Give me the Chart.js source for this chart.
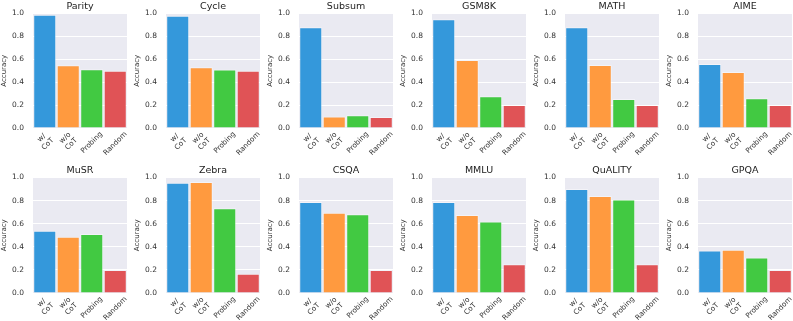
<!DOCTYPE html>
<html>
<head>
<meta charset="utf-8">
<script src="https://cdn.jsdelivr.net/npm/chart.js@4.4.1/dist/chart.umd.min.js"></script>
<style>
  html, body { margin: 0; padding: 0; background: #fff; overflow: hidden; width: 793px; height: 321px; }
  canvas { position: absolute; }
</style>
</head>
<body>
<script>
// tasks (one small chart each) and the four methods on the x axis
var tasks = ['Parity', 'Cycle', 'Subsum', 'GSM8K', 'MATH', 'AIME', 'MuSR', 'Zebra', 'CSQA', 'MMLU', 'QuALITY', 'GPQA'];
var methods = [['w/', 'CoT'], ['w/o', 'CoT'], 'Probing', 'Random'];

// accuracy per task, one array per method
var withCoT    = [0.99, 0.98, 0.88, 0.95, 0.88, 0.56, 0.54, 0.955, 0.787, 0.787, 0.90, 0.368];
var withoutCoT = [0.549, 0.53, 0.10, 0.594, 0.551, 0.489, 0.486, 0.96, 0.695, 0.675, 0.839, 0.374];
var probing    = [0.514, 0.51, 0.111, 0.277, 0.254, 0.26, 0.511, 0.733, 0.681, 0.618, 0.81, 0.307];
var randomBase = [0.50, 0.50, 0.095, 0.20, 0.20, 0.20, 0.20, 0.167, 0.20, 0.25, 0.25, 0.20];

var yTicks = [0.0, 0.2, 0.4, 0.6, 0.8, 1.0];

var barColors = ['#3498db', '#ff9a3f', '#42c942', '#e05356'];
var font = "'DejaVu Sans', sans-serif";
var textColor = '#333';

var panelBg = {
  id: 'panelBg',
  beforeDraw: function (chart) {
    var a = chart.chartArea, ctx = chart.ctx;
    ctx.save();
    ctx.fillStyle = '#eaeaf2';
    ctx.fillRect(a.left, a.top, a.right - a.left, a.bottom - a.top);
    ctx.restore();
  }
};

// rotated x labels, block centred under each tick (like matplotlib rotation=45)
var rotatedLabels = {
  id: 'rotatedLabels',
  afterDraw: function (chart) {
    var sx = chart.scales.x, ctx = chart.ctx;
    var size = 7.2, lh = size * 1.2;
    ctx.save();
    ctx.font = size + "px 'DejaVu Sans', sans-serif";
    ctx.fillStyle = textColor;
    ctx.textAlign = 'center';
    ctx.textBaseline = 'middle';
    chart.data.labels.forEach(function (lab, k) {
      var lines = [].concat(lab);
      var w = 0;
      lines.forEach(function (l) { w = Math.max(w, ctx.measureText(l).width); });
      var h = lines.length * lh;
      var side = (w + h) * Math.SQRT1_2;
      var cx = sx.getPixelForTick(k);
      var cy = sx.top + 2 + side / 2;
      ctx.save();
      ctx.translate(cx, cy);
      ctx.rotate(-Math.PI / 4);
      lines.forEach(function (l, j) {
        ctx.fillText(l, 0, (j - (lines.length - 1) / 2) * lh);
      });
      ctx.restore();
    });
    ctx.restore();
  }
};

function show_panel(i) {
  var row = Math.floor(i / 6), col = i % 6;
  var top = row === 0 ? 0 : 164;
  var height = row === 0 ? 160 : 157;
  var plotH = row === 0 ? 115 : 116;
  var cv = document.createElement('canvas');
  cv.width = 133;
  cv.height = height;
  cv.style.left = (col * 133) + 'px';
  cv.style.top = top + 'px';
  document.body.appendChild(cv);

  new Chart(cv.getContext('2d'), {
    type: 'bar',
    data: {
      labels: methods,
      datasets: [{
        data: [withCoT[i], withoutCoT[i], probing[i], randomBase[i]],
        backgroundColor: barColors,
        borderColor: 'rgba(255,255,255,0.45)',
        borderWidth: 1,
        categoryPercentage: 0.98,
        barPercentage: 1.0
      }]
    },
    plugins: [panelBg, rotatedLabels],
    options: {
      responsive: false,
      animation: false,
      devicePixelRatio: 1,
      layout: { padding: { left: 0, right: 6, top: 0, bottom: 0 } },
      plugins: {
        legend: { display: false },
        tooltip: { enabled: false },
        title: {
          display: true,
          text: tasks[i],
          fullSize: false,
          color: '#222',
          font: { family: font, size: 9.5, weight: 'normal', lineHeight: 1.26 },
          padding: { top: 0, bottom: 1 }
        }
      },
      scales: {
        x: {
          grid: { display: false },
          border: { display: false },
          ticks: { display: false },
          afterFit: function (s) { s.height = height - 13 - plotH; }
        },
        y: {
          min: 0,
          max: 1,
          afterBuildTicks: function (s) { s.ticks = yTicks.map(function (v) { return { value: v }; }); },
          grid: { color: '#ffffff', lineWidth: 1, drawTicks: false },
          border: { display: false },
          ticks: {
            color: textColor,
            font: { family: font, size: 7.5 },
            padding: 9,
            callback: function (v) { return Number(v).toFixed(1); }
          },
          title: {
            display: true,
            text: 'Accuracy',
            color: textColor,
            font: { family: font, size: 7 },
            padding: { top: 0, bottom: 0 }
          },
          afterFit: function (s) { s.width = 33; }
        }
      }
    }
  });
}

for (var i = 0; i < tasks.length; i++) {
  show_panel(i);
}
</script>
</body>
</html>
